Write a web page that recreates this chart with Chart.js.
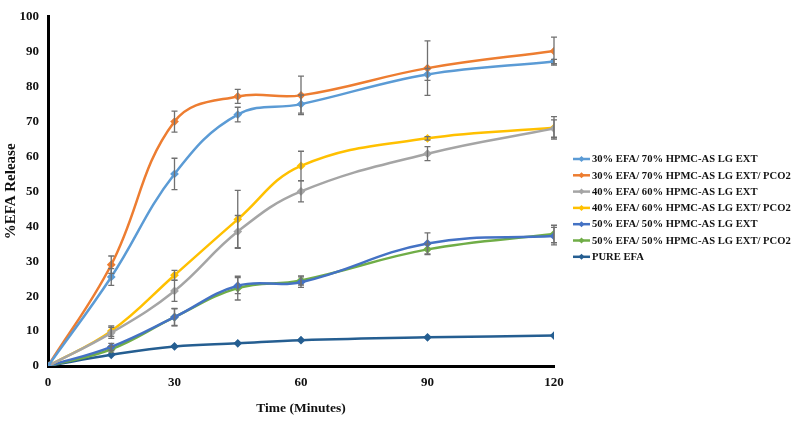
<!DOCTYPE html>
<html>
<head>
<meta charset="utf-8">
<script src="https://cdn.jsdelivr.net/npm/chart.js@4/dist/chart.umd.min.js"></script>
<style>
  html, body { margin: 0; padding: 0; background: #fff; }
  #wrap { width: 795px; height: 421px; }
</style>
</head>
<body>
<div id="wrap"><canvas id="chart" width="795" height="421"></canvas></div>
<script>
const times = [0, 15, 30, 45, 60, 90, 120];

const labels = [
  "30% EFA/ 70% HPMC-AS LG EXT",
  "30% EFA/ 70% HPMC-AS LG EXT/ PCO2",
  "40% EFA/ 60% HPMC-AS LG EXT",
  "40% EFA/ 60% HPMC-AS LG EXT/ PCO2",
  "50% EFA/ 50% HPMC-AS LG EXT",
  "50% EFA/ 50% HPMC-AS LG EXT/ PCO2",
  "PURE EFA"
];

const efa30 = [0, 25.5, 55, 72, 75, 83.5, 87.2];
const efa30Pco2 = [0, 29, 70, 77.2, 77.5, 85.3, 90.2];
const efa40 = [0, 9.5, 21.5, 38.5, 50, 60.8, 68];
const efa40Pco2 = [0, 10, 26, 42, 57.3, 65.2, 68.2];
const efa50 = [0, 5.5, 14, 23, 24, 35.1, 37.2];
const efa50Pco2 = [0, 4.8, 14, 22.3, 24.5, 33.4, 37.8];
const pureEfa = [0, 3.2, 5.6, 6.5, 7.4, 8.2, 8.7];

// standard deviations
const err30 = [0, 2.4, 4.5, 2.1, 2.6, 1.7, 0.6];
const err30Pco2 = [0, 2.5, 3, 2, 5.5, 7.8, 4];
const err40 = [0, 1.6, 3, 4.6, 3, 2, 2.5];
const err40Pco2 = [0, 1.5, 1.4, 8.3, 4.2, 0.5, 3.2];
const err50 = [0, 1, 2.5, 2.3, 1.5, 3, 2.5];
const err50Pco2 = [0, 0.8, 2.4, 3.4, 1.3, 1.5, 2.5];
const errPure = [0, 0, 0, 0, 0, 0, 0];

const colors = ["#5B9BD5", "#ED7D31", "#A5A5A5", "#FFC000", "#4472C4", "#70AD47", "#255E91"];
const series = [efa30, efa30Pco2, efa40, efa40Pco2, efa50, efa50Pco2, pureEfa];
const errors = [err30, err30Pco2, err40, err40Pco2, err50, err50Pco2, errPure];

const serif = "'Liberation Serif', 'Times New Roman', serif";

const toPoints = (ys) => times.map((t, i) => ({ x: t, y: ys[i] }));

const errorBars = {
  id: "errorBars",
  afterDatasetsDraw(chart) {
    const ctx = chart.ctx;
    const xs = chart.scales.x;
    const ys = chart.scales.y;
    ctx.save();
    ctx.strokeStyle = "#707070";
    ctx.lineWidth = 1.3;
    errors.forEach((errs, d) => {
      errs.forEach((e, i) => {
        if (!e) return;
        const px = xs.getPixelForValue(times[i]);
        const top = ys.getPixelForValue(series[d][i] + e);
        const bot = ys.getPixelForValue(series[d][i] - e);
        ctx.beginPath();
        ctx.moveTo(px, top);
        ctx.lineTo(px, bot);
        ctx.moveTo(px - 3, top);
        ctx.lineTo(px + 3, top);
        ctx.moveTo(px - 3, bot);
        ctx.lineTo(px + 3, bot);
        ctx.stroke();
      });
    });
    ctx.restore();
  }
};

const sideLegend = {
  id: "sideLegend",
  afterDraw(chart) {
    const ctx = chart.ctx;
    ctx.save();
    ctx.font = "bold 10.6px " + serif;
    ctx.textBaseline = "middle";
    ctx.textAlign = "left";
    labels.forEach((label, i) => {
      const y = 159 + i * 16.3;
      ctx.strokeStyle = colors[i];
      ctx.lineWidth = 2.5;
      ctx.beginPath();
      ctx.moveTo(573, y);
      ctx.lineTo(590, y);
      ctx.stroke();
      ctx.fillStyle = colors[i];
      ctx.beginPath();
      ctx.moveTo(581.5, y - 3);
      ctx.lineTo(584.5, y);
      ctx.lineTo(581.5, y + 3);
      ctx.lineTo(578.5, y);
      ctx.closePath();
      ctx.fill();
      ctx.fillStyle = "#111";
      ctx.fillText(label, 592, y + 0.5);
    });
    ctx.restore();
  }
};

new Chart(document.getElementById("chart"), {
  type: "line",
  data: {
    datasets: series.map((ys, i) => ({
      label: labels[i],
      data: toPoints(ys),
      borderColor: colors[i],
      backgroundColor: colors[i],
      borderWidth: 2.5,
      pointStyle: "rectRot",
      pointRadius: 2.6,
      tension: 0.4,
      fill: false
    }))
  },
  options: {
    responsive: false,
    animation: false,
    layout: { padding: { left: 0, right: 241, top: 10, bottom: 0 } },
    plugins: {
      legend: { display: false },
      tooltip: { enabled: false }
    },
    scales: {
      x: {
        type: "linear",
        min: 0,
        max: 120,
        grid: { display: false, drawTicks: false },
        border: { display: true, color: "#000", width: 3 },
        ticks: {
          stepSize: 30,
          padding: 9,
          color: "#111",
          font: { family: serif, size: 13, weight: "bold" }
        },
        title: {
          display: true,
          text: "Time (Minutes)",
          color: "#111",
          padding: { top: 6 },
          font: { family: serif, size: 13.5, weight: "bold" }
        },
        afterFit(scale) { scale.height = 55; }
      },
      y: {
        min: 0,
        max: 100,
        grid: { display: false, drawTicks: false },
        border: { display: true, color: "#000", width: 3 },
        ticks: {
          stepSize: 10,
          padding: 9,
          color: "#111",
          font: { family: serif, size: 13, weight: "bold" }
        },
        title: {
          display: true,
          text: "%EFA Release",
          color: "#111",
          padding: { top: 2, bottom: 0 },
          font: { family: serif, size: 15, weight: "bold" }
        },
        afterFit(scale) { scale.width = 48; }
      }
    }
  },
  plugins: [errorBars, sideLegend]
});
</script>
</body>
</html>
